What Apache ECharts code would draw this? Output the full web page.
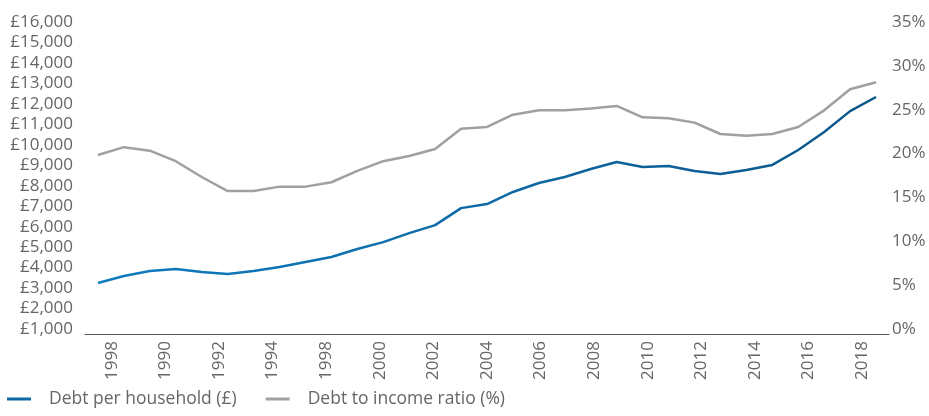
<!DOCTYPE html>
<html>
<head>
<meta charset="utf-8">
<script src="https://cdn.jsdelivr.net/npm/echarts@6/dist/echarts.min.js"></script>
<style>
  html, body { margin: 0; padding: 0; background: #fff; }
  #chart { width: 929px; height: 416px; }
</style>
</head>
<body>
<div id="chart"></div>
<script>
// one point per year, 1988 - 2018
var years = [];
for (var y = 1988; y <= 2018; y++) years.push(String(y));

// labels exactly as printed under the axis
var tickLabels = ['1998', '1990', '1992', '1994', '1998', '2000', '2002', '2004',
    '2006', '2008', '2010', '2012', '2014', '2016', '2018'];

var debtPerHousehold = [3490, 3830, 4080, 4175, 4030, 3930, 4080, 4270, 4520, 4760,
    5150, 5490, 5930, 6320, 7150, 7350, 7940, 8380, 8670, 9060,
    9400, 9160, 9210, 8960, 8820, 9010, 9260, 9990, 10870, 11890, 12580];

var debtToIncome = [20.4, 21.3, 20.9, 19.7, 17.9, 16.3, 16.3, 16.8, 16.8, 17.3,
    18.6, 19.7, 20.3, 21.1, 23.4, 23.6, 25.0, 25.5, 25.5, 25.7,
    26.0, 24.7, 24.6, 24.1, 22.8, 22.6, 22.8, 23.6, 25.5, 27.9, 28.7];

var textColor = '#666666';
var font = 'Open Sans';
var fs = 17;

var blue = new echarts.graphic.LinearGradient(0, 0, 1, 0, [
    { offset: 0, color: '#0f7cc0' },
    { offset: 1, color: '#0b5689' }
]);

function pounds(v) {
    return '£' + String(v).replace(/\B(?=(\d{3})+(?!\d))/g, ',');
}

var myChart = echarts.init(document.getElementById('chart'));

var option = {
    animation: false,
    textStyle: { fontFamily: font },
    grid: { left: 85, right: 40, top: 27, bottom: 82 },
    legend: {
        left: 2,
        top: 385,
        itemWidth: 24,
        itemHeight: 3,
        itemGap: 29,
        icon: 'rect',
        formatter: function (name) { return '{g|}' + name; },
        textStyle: {
            color: textColor, fontSize: 17.5, fontFamily: font,
            rich: { g: { width: 13 } }
        },
        data: [
            { name: 'Debt per household (£)', itemStyle: { color: '#0d6aa6' } },
            { name: 'Debt to income ratio (%)', itemStyle: { color: '#a0a0a0' } }
        ]
    },
    xAxis: [
        {
            type: 'category',
            data: years,
            boundaryGap: true,
            axisLine: { lineStyle: { color: '#595959', width: 1 } },
            axisTick: { show: false },
            axisLabel: { show: false }
        },
        {
            type: 'category',
            data: tickLabels,
            position: 'bottom',
            boundaryGap: true,
            axisLine: { show: false },
            axisTick: { show: false },
            axisLabel: { rotate: 90, margin: 7, color: textColor, fontSize: fs, fontFamily: font, interval: 0 }
        }
    ],
    yAxis: [
        {
            type: 'value',
            min: 1000,
            max: 16000,
            interval: 1000,
            splitLine: { show: false },
            axisLine: { show: false },
            axisTick: { show: false },
            axisLabel: {
                color: textColor, fontSize: fs, fontFamily: font, margin: 12,
                verticalAlign: 'bottom', lineHeight: 10,
                formatter: pounds
            }
        },
        {
            type: 'value',
            min: 0,
            max: 35,
            interval: 5,
            position: 'right',
            splitLine: { show: false },
            axisLine: { show: false },
            axisTick: { show: false },
            axisLabel: {
                color: textColor, fontSize: fs, fontFamily: font, margin: 3,
                verticalAlign: 'bottom', lineHeight: 10,
                formatter: '{value}%'
            }
        }
    ],
    series: [
        {
            name: 'Debt per household (£)',
            type: 'line',
            xAxisIndex: 0,
            yAxisIndex: 0,
            data: debtPerHousehold,
            showSymbol: false,
            lineStyle: { color: blue, width: 2.5 },
            itemStyle: { color: '#0d6aa6' }
        },
        {
            name: 'Debt to income ratio (%)',
            type: 'line',
            xAxisIndex: 0,
            yAxisIndex: 1,
            data: debtToIncome,
            showSymbol: false,
            lineStyle: { color: '#a0a0a0', width: 2.5 },
            itemStyle: { color: '#a0a0a0' }
        }
    ]
};

option && myChart.setOption(option);
</script>
</body>
</html>
